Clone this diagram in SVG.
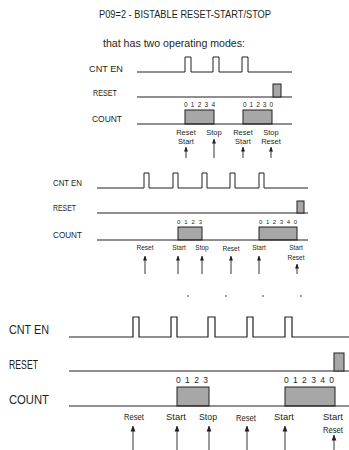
<svg xmlns="http://www.w3.org/2000/svg" width="349" height="450" viewBox="0 0 349 450">
<style>
text{font-family:"Liberation Sans",Arial,sans-serif;fill:#231f20}
.sig{fill:none;stroke:#231f20;stroke-width:1}
.sig3{fill:none;stroke:#231f20;stroke-width:1.2}
.box{fill:#a7a7a7;stroke:#231f20;stroke-width:1}
.arr{stroke:#231f20;stroke-width:0.9;fill:none}
.m{text-anchor:middle}
</style>
<defs>
<marker id="ah" viewBox="0 0 6 6" refX="5.5" refY="3" markerWidth="5" markerHeight="5" markerUnits="userSpaceOnUse" orient="auto">
<path d="M0,0.6 L6,3 L0,5.4 z" fill="#231f20"/>
</marker>
<marker id="ah3" viewBox="0 0 6 6" refX="5.5" refY="3" markerWidth="6" markerHeight="6" markerUnits="userSpaceOnUse" orient="auto">
<path d="M0,0.6 L6,3 L0,5.4 z" fill="#231f20"/>
</marker>
</defs>
<rect width="349" height="450" fill="#fff"/>

<g id="title">
<text x="99" y="17.5" font-size="10.5" textLength="172" lengthAdjust="spacingAndGlyphs">P09=2 - BISTABLE RESET-START/STOP</text>
<text x="103" y="46.5" font-size="11" textLength="142" lengthAdjust="spacingAndGlyphs">that has two operating modes:</text>
</g>

<g id="section1">
<g id="s1-cnten">
<text x="89" y="71.5" font-size="9" textLength="34" lengthAdjust="spacingAndGlyphs">CNT EN</text>
<path class="sig" d="M137,72 H185 V57 H191 V72 H213 V57 H219 V72 H242 V57 H248 V72 H292"/>
</g>
<g id="s1-reset">
<text x="93" y="95.5" font-size="9" textLength="24" lengthAdjust="spacingAndGlyphs">RESET</text>
<path class="sig" d="M137,97 H292"/>
<rect class="box" x="273" y="84" width="8" height="13"/>
</g>
<g id="s1-count">
<text x="92" y="121.5" font-size="9" textLength="30" lengthAdjust="spacingAndGlyphs">COUNT</text>
<rect class="box" x="185" y="110" width="29" height="14"/>
<rect class="box" x="243" y="110" width="29" height="14"/>
<path class="sig" d="M137,124 H292"/>
<text x="184" y="107" font-size="6.5" textLength="31" lengthAdjust="spacing">0 1 2 3 4</text>
<text x="243" y="107" font-size="6.5" textLength="30" lengthAdjust="spacing">0 1 2 3 0</text>
</g>
<g id="s1-events" font-size="7.5">
<text class="m" x="186" y="135">Reset</text>
<text class="m" x="186" y="144">Start</text>
<text class="m" x="214" y="135">Stop</text>
<text class="m" x="243" y="135">Reset</text>
<text class="m" x="243" y="144">Start</text>
<text class="m" x="271" y="135">Stop</text>
<text class="m" x="271" y="144">Reset</text>
</g>
</g>

<g id="section2">
<g id="s2-cnten">
<text x="53" y="186" font-size="8.5" textLength="29" lengthAdjust="spacingAndGlyphs">CNT EN</text>
<path class="sig" d="M97,188 H144 V173 H149 V188 H173 V173 H178 V188 H202 V173 H207 V188 H230 V173 H235 V188 H259 V173 H264 V188 H308"/>
</g>
<g id="s2-reset">
<text x="53" y="211" font-size="8.5" textLength="23" lengthAdjust="spacingAndGlyphs">RESET</text>
<path class="sig" d="M97,213 H308"/>
<rect class="box" x="297" y="201" width="7" height="12"/>
</g>
<g id="s2-count">
<text x="53" y="238" font-size="8.5" textLength="29" lengthAdjust="spacingAndGlyphs">COUNT</text>
<rect class="box" x="178" y="227" width="24" height="13"/>
<rect class="box" x="259" y="227" width="38" height="13"/>
<path class="sig" d="M97,240 H308"/>
<text x="177" y="224" font-size="6" textLength="25" lengthAdjust="spacing">0 1 2 3</text>
<text x="259" y="224" font-size="6" textLength="38" lengthAdjust="spacing">0 1 2 3 4 0</text>
</g>
<g id="s2-events" font-size="6.5">
<text class="m" x="145" y="250">Reset</text>
<text class="m" x="179" y="250">Start</text>
<text class="m" x="202" y="250">Stop</text>
<text class="m" x="231" y="251">Reset</text>
<text class="m" x="259" y="250">Start</text>
<text class="m" x="296" y="250">Start</text>
<text class="m" x="296" y="260">Reset</text>
</g>
<g id="s2-ticks" fill="#444">
<rect x="187.5" y="295" width="1" height="2"/>
<rect x="225.5" y="295" width="1" height="2"/>
<rect x="262.5" y="295" width="1" height="2"/>
<rect x="300.5" y="295" width="1" height="2"/>
</g>
</g>

<g id="section3">
<g id="s3-cnten">
<text x="9" y="333.5" font-size="12" textLength="40" lengthAdjust="spacingAndGlyphs">CNT EN</text>
<path class="sig3" d="M69,337 H133 V317 H139 V337 H171 V317 H177 V337 H208 V317 H215 V337 H247 V317 H253 V337 H285 V317 H292 V337 H349"/>
</g>
<g id="s3-reset">
<text x="9" y="368.5" font-size="12" textLength="29" lengthAdjust="spacingAndGlyphs">RESET</text>
<path class="sig3" d="M69,371 H349"/>
<rect class="box" x="334" y="353" width="10" height="18"/>
</g>
<g id="s3-count">
<text x="9" y="403.5" font-size="12" textLength="40" lengthAdjust="spacingAndGlyphs">COUNT</text>
<rect class="box" x="177" y="387" width="32" height="19"/>
<rect class="box" x="285" y="387" width="50" height="19"/>
<path class="sig3" d="M69,406 H349"/>
<text x="176" y="383" font-size="8.5" textLength="32" lengthAdjust="spacing">0 1 2 3</text>
<text x="284" y="383" font-size="8.5" textLength="50" lengthAdjust="spacing">0 1 2 3 4 0</text>
</g>
<g id="s3-events" font-size="9">
<text class="m" x="134" y="419.5" textLength="20" lengthAdjust="spacingAndGlyphs">Reset</text>
<text class="m" x="176" y="419.5" textLength="20" lengthAdjust="spacingAndGlyphs">Start</text>
<text class="m" x="208" y="419.5" textLength="18" lengthAdjust="spacingAndGlyphs">Stop</text>
<text class="m" x="246" y="420.5" textLength="20" lengthAdjust="spacingAndGlyphs">Reset</text>
<text class="m" x="284" y="419.5" textLength="20" lengthAdjust="spacingAndGlyphs">Start</text>
<text class="m" x="333" y="419.5" textLength="20" lengthAdjust="spacingAndGlyphs">Start</text>
<text class="m" x="333" y="432.5" textLength="20" lengthAdjust="spacingAndGlyphs">Reset</text>
</g>
</g>

<g id="connectors">
<line class="arr" x1="186" y1="158" x2="186" y2="147" marker-end="url(#ah)"/>
<line class="arr" x1="214" y1="158" x2="214" y2="139" marker-end="url(#ah)"/>
<line class="arr" x1="243" y1="158" x2="243" y2="147" marker-end="url(#ah)"/>
<line class="arr" x1="271" y1="158" x2="271" y2="147" marker-end="url(#ah)"/>

<line class="arr" x1="145" y1="274" x2="145" y2="256" marker-end="url(#ah)"/>
<line class="arr" x1="178" y1="274" x2="178" y2="256" marker-end="url(#ah)"/>
<line class="arr" x1="202" y1="274" x2="202" y2="256" marker-end="url(#ah)"/>
<line class="arr" x1="231" y1="274" x2="231" y2="256" marker-end="url(#ah)"/>
<line class="arr" x1="259" y1="274" x2="259" y2="256" marker-end="url(#ah)"/>
<line class="arr" x1="297" y1="274" x2="297" y2="264" marker-end="url(#ah)"/>

<line class="arr" x1="133" y1="450" x2="133" y2="426" marker-end="url(#ah3)"/>
<line class="arr" x1="177" y1="450" x2="177" y2="426" marker-end="url(#ah3)"/>
<line class="arr" x1="209" y1="450" x2="209" y2="426" marker-end="url(#ah3)"/>
<line class="arr" x1="247" y1="450" x2="247" y2="426" marker-end="url(#ah3)"/>
<line class="arr" x1="285" y1="450" x2="285" y2="426" marker-end="url(#ah3)"/>
<line class="arr" x1="334" y1="450" x2="334" y2="435" marker-end="url(#ah3)"/>
</g>
</svg>
